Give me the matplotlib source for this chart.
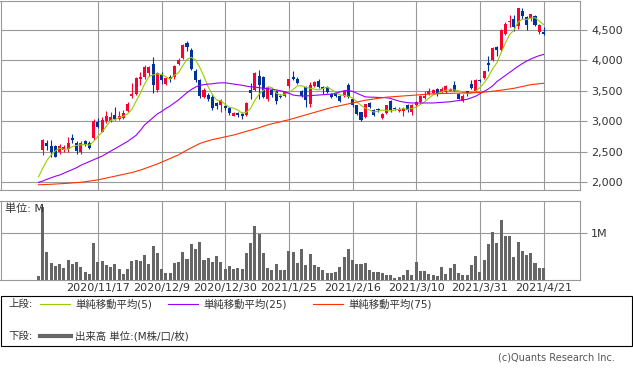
import matplotlib
matplotlib.use("Agg")
import matplotlib.pyplot as plt
import pandas as pd
from matplotlib.patches import Rectangle

W, H = 633, 373

# x-axis: trading-day index, labelled every 15 days
date_labels = ["2020/11/17", "2020/12/9", "2020/12/30", "2021/1/25",
               "2021/2/16", "2021/3/10", "2021/3/31", "2021/4/21"]
label_days = [14, 29, 44, 59, 74, 89, 104, 119]

opens = [2380, 2530, 2650, 2600, 2600, 2500, 2530, 2540, 2730, 2640,
         2490, 2680, 2650, 2730, 2990, 2830, 3000, 3010, 3110, 3045,
         3060, 3165, 3420, 3454, 3685, 3725, 3790, 3944, 3508, 3765,
         3618, 3730, 3720, 3944, 4042, 4281, 4173, 3820, 3680, 3400,
         3430, 3400, 3300, 3260, 3250, 3220, 3090, 3130, 3120, 3100,
         3520, 3520, 3750, 3720, 3360, 3520, 3500, 3420, 3420, 3570,
         3730, 3700, 3500, 3560, 3280, 3580, 3660, 3560, 3560, 3450,
         3450, 3420, 3420, 3600, 3370, 3260, 3150, 3070, 3300, 3190,
         3205, 3060, 3140, 3330, 3220, 3170, 3170, 3260, 3150, 3260,
         3310, 3385, 3450, 3460, 3530, 3480, 3480, 3500, 3590, 3450,
         3340, 3490, 3610, 3500, 3680, 3710, 3950, 4000, 4210, 4170,
         4430, 4620, 4670, 4560, 4800, 4710, 4690, 4730, 4460, 4455]
highs = [2380, 2710, 2690, 2690, 2610, 2620, 2610, 2745, 2785, 2675,
         2675, 2690, 2675, 3035, 3056, 3067, 3165, 3160, 3235, 3165,
         3180, 3317, 3620, 3725, 3807, 3928, 3900, 4052, 3807, 3807,
         3725, 3760, 3920, 4030, 4270, 4320, 4200, 3850, 3700, 3540,
         3470, 3440, 3320, 3370, 3270, 3240, 3150, 3150, 3160, 3320,
         3630, 3810, 3840, 3740, 3570, 3540, 3510, 3440, 3500, 3700,
         3830, 3720, 3510, 3580, 3640, 3660, 3690, 3580, 3570, 3470,
         3460, 3430, 3510, 3620, 3380, 3270, 3160, 3290, 3320, 3200,
         3220, 3140, 3270, 3350, 3230, 3230, 3230, 3280, 3280, 3330,
         3430, 3500, 3540, 3530, 3550, 3560, 3600, 3550, 3660, 3470,
         3440, 3500, 3670, 3690, 3700, 3830, 4070, 4220, 4240, 4510,
         4620, 4740, 4740, 4860, 4860, 4720, 4760, 4740, 4590, 4540]
lows = [2380, 2450, 2530, 2420, 2410, 2470, 2490, 2500, 2650, 2470,
        2460, 2590, 2545, 2690, 2890, 2820, 2965, 2990, 3020, 3020,
        3040, 3153, 3380, 3426, 3590, 3700, 3750, 3464, 3480, 3618,
        3590, 3650, 3700, 3920, 4020, 4150, 3840, 3640, 3380, 3380,
        3340, 3190, 3200, 3160, 3190, 3110, 3080, 3070, 3040, 3090,
        3370, 3500, 3370, 3380, 3330, 3400, 3290, 3380, 3400, 3550,
        3680, 3610, 3400, 3230, 3230, 3560, 3540, 3450, 3460, 3380,
        3390, 3320, 3400, 3380, 3240, 3100, 3000, 3060, 3220, 3080,
        3160, 3040, 3120, 3160, 3180, 3150, 3090, 3160, 3110, 3240,
        3300, 3370, 3430, 3440, 3420, 3460, 3460, 3490, 3490, 3360,
        3310, 3420, 3530, 3490, 3640, 3700, 3820, 3980, 4070, 4150,
        4410, 4540, 4480, 4520, 4680, 4500, 4650, 4560, 4430, 4420]
closes = [2380, 2690, 2600, 2490, 2420, 2600, 2580, 2640, 2690, 2510,
          2650, 2620, 2570, 3000, 2910, 3020, 3085, 3070, 3045, 3080,
          3130, 3285, 3440, 3709, 3725, 3890, 3890, 3590, 3791, 3672,
          3709, 3690, 3900, 4010, 4255, 4216, 3863, 3670, 3410, 3510,
          3360, 3210, 3250, 3350, 3210, 3130, 3130, 3100, 3080, 3300,
          3460, 3790, 3590, 3400, 3560, 3430, 3340, 3400, 3480, 3690,
          3700, 3630, 3420, 3345, 3600, 3640, 3560, 3530, 3480, 3400,
          3410, 3340, 3500, 3400, 3260, 3120, 3020, 3280, 3240, 3100,
          3180, 3120, 3260, 3180, 3200, 3205, 3205, 3180, 3260, 3310,
          3420, 3420, 3500, 3510, 3440, 3530, 3570, 3530, 3500, 3370,
          3420, 3440, 3550, 3680, 3660, 3820, 3930, 4200, 4170, 4490,
          4600, 4645, 4540, 4850, 4730, 4580, 4750, 4580, 4580, 4430]

# volume, in millions of shares
volumes = [0.09, 1.57, 0.60, 0.36, 0.30, 0.34, 0.26, 0.43, 0.34, 0.39,
           0.28, 0.17, 0.13, 0.79, 0.39, 0.41, 0.32, 0.28, 0.34, 0.24,
           0.13, 0.24, 0.41, 0.43, 0.41, 0.54, 0.34, 0.73, 0.58, 0.24,
           0.15, 0.15, 0.36, 0.39, 0.60, 0.45, 0.77, 0.66, 0.81, 0.43,
           0.47, 0.39, 0.51, 0.39, 0.24, 0.30, 0.24, 0.26, 0.24, 0.58,
           0.79, 1.16, 0.99, 0.58, 0.26, 0.21, 0.34, 0.21, 0.21, 0.62,
           0.60, 0.36, 0.66, 0.32, 0.56, 0.32, 0.28, 0.21, 0.15, 0.15,
           0.17, 0.28, 0.49, 0.66, 0.43, 0.34, 0.34, 0.36, 0.21, 0.17,
           0.17, 0.15, 0.11, 0.11, 0.04, 0.06, 0.11, 0.21, 0.11, 0.39,
           0.19, 0.19, 0.13, 0.11, 0.09, 0.28, 0.13, 0.26, 0.34, 0.15,
           0.11, 0.11, 0.32, 0.51, 0.17, 0.43, 0.77, 1.03, 0.79, 1.29,
           0.94, 0.94, 0.49, 0.81, 0.62, 0.54, 0.58, 0.36, 0.26, 0.26]

# first four 5-day averages depend on earlier closes
ma5_head = [2090, 2230, 2360, 2450]
ma25 = [2000, 2020, 2050, 2075, 2100, 2120, 2150, 2180, 2210, 2240,
        2280, 2310, 2340, 2370, 2400, 2430, 2470, 2510, 2550, 2590,
        2630, 2670, 2720, 2770, 2850, 2940, 3000, 3060, 3120, 3160,
        3210, 3250, 3300, 3350, 3410, 3470, 3520, 3560, 3590, 3600,
        3610, 3615, 3625, 3630, 3630, 3620, 3610, 3600, 3590, 3575,
        3565, 3560, 3550, 3540, 3535, 3525, 3515, 3500, 3485, 3460,
        3430, 3420, 3415, 3415, 3420, 3425, 3430, 3435, 3440, 3445,
        3460, 3480, 3500, 3505, 3490, 3460, 3430, 3400, 3395, 3395,
        3390, 3390, 3385, 3375, 3350, 3330, 3315, 3305, 3300, 3300,
        3300, 3300, 3300, 3300, 3305, 3310, 3315, 3320, 3330, 3340,
        3350, 3360, 3385, 3410, 3450, 3490, 3530, 3580, 3650, 3700,
        3750, 3800, 3850, 3900, 3945, 3985, 4020, 4050, 4075, 4095]
ma75 = [1960, 1962, 1965, 1968, 1972, 1976, 1980, 1985, 1990, 1995,
        2000, 2010, 2020, 2030, 2040, 2055, 2070, 2085, 2100, 2115,
        2130, 2145, 2160, 2180, 2200, 2225, 2250, 2275, 2300, 2330,
        2360, 2390, 2420, 2450, 2490, 2530, 2565, 2600, 2635, 2660,
        2680, 2700, 2715, 2730, 2745, 2760, 2775, 2795, 2815, 2835,
        2855, 2875, 2895, 2920, 2940, 2960, 2975, 2990, 3010, 3025,
        3045, 3065, 3085, 3105, 3125, 3145, 3165, 3185, 3205, 3225,
        3240, 3255, 3270, 3285, 3300, 3315, 3330, 3345, 3355, 3365,
        3375, 3385, 3395, 3400, 3405, 3410, 3415, 3420, 3425, 3430,
        3435, 3440, 3445, 3450, 3452, 3454, 3456, 3458, 3460, 3462,
        3464, 3466, 3468, 3470, 3472, 3478, 3485, 3492, 3500, 3510,
        3520, 3530, 3540, 3555, 3570, 3585, 3600, 3608, 3615, 3622]

UP = "#ff0033"
DOWN = "#003399"
GRID = "#999999"

plt.rcParams["font.family"] = ["DejaVu Sans", "Noto Sans CJK JP"]

df = pd.DataFrame({"open": opens, "high": highs, "low": lows,
                   "close": closes, "volume": volumes})
df["ma5"] = df["close"].rolling(5).mean()
df.loc[:3, "ma5"] = ma5_head
df["ma25"] = ma25
df["ma75"] = ma75
days = df.index.to_numpy()


def px_axes(fig, x0, y0, x1, y1):
    return fig.add_axes([x0 / W, 1 - y1 / H, (x1 - x0) / W, (y1 - y0) / H])


def style_frame(ax):
    for s in ax.spines.values():
        s.set_color(GRID)
        s.set_linewidth(0.8)
    ax.grid(True, color=GRID, lw=0.8)
    ax.set_axisbelow(True)
    ax.set_xlim(-8.95, 127.6)
    ax.set_xticks(label_days)


fig = plt.figure(figsize=(W / 100, H / 100), dpi=100)

# price panel
ax = px_axes(fig, 0.5, 0.5, 580, 190)
style_frame(ax)
up = df["close"] >= df["open"]
colors = [UP if (u and c != o) else DOWN for u, c, o in zip(up, df["close"], df["open"])]
body_lo = df[["open", "close"]].min(axis=1)
body_h = (df["close"] - df["open"]).abs().clip(lower=10)
ax.vlines(days, df["low"], df["high"], colors=colors, lw=0.8, zorder=2)
ax.bar(days, body_h, bottom=body_lo, width=0.72, color=colors, zorder=3)
ax.plot(days, df["ma5"], color="#99cc00", lw=0.8, zorder=4)
ax.plot(days, df["ma25"], color="#9900ff", lw=0.8, zorder=4)
ax.plot(days, df["ma75"], color="#ff3300", lw=0.8, zorder=4)
ax.set_ylim(1874, 4979)
ax.set_yticks([2000, 2500, 3000, 3500, 4000, 4500])
ax.set_yticklabels([f"{v:,}" for v in [2000, 2500, 3000, 3500, 4000, 4500]])
ax.tick_params(axis="y", left=False, labelleft=False, right=True, labelright=True,
               length=5, color=GRID, labelsize=8, labelcolor="#333333", pad=3)
ax.tick_params(axis="x", length=0, labelbottom=False)

# volume panel
axv = px_axes(fig, 0.5, 201, 580, 280)
style_frame(axv)
axv.bar(days, df["volume"], width=0.72, color="#666666", zorder=3)
axv.set_ylim(0, 1.69)
axv.set_yticks([1])
axv.set_yticklabels(["1M"])
axv.tick_params(axis="y", left=False, labelleft=False, right=True, labelright=True,
                length=5, color=GRID, labelsize=8, labelcolor="#333333", pad=3)
axv.set_xticklabels(date_labels)
axv.tick_params(axis="x", length=0, labelsize=8, labelcolor="#333333", pad=2)
axv.text(0.008, 0.9, "単位: M", transform=axv.transAxes, fontsize=8,
         color="#333333", va="center", ha="left", zorder=5)

# legend panel drawn in pixel coordinates
axl = px_axes(fig, 0, 290, W, H)
axl.set_xlim(0, W)
axl.set_ylim(H, 290)
axl.set_axis_off()
axl.add_patch(Rectangle((0.5, 296), 631.5, 50, fill=False, ec="black", lw=0.8))
txt = dict(fontsize=7.5, color="#333333", va="center", ha="left")
axl.text(8, 304, "上段:", **txt)
axl.text(8, 336, "下段:", **txt)
for x0, col, lab in [(40, "#99cc00", "単純移動平均(5)"),
                     (168, "#9900ff", "単純移動平均(25)"),
                     (313, "#ff3300", "単純移動平均(75)")]:
    axl.plot([x0, x0 + 30], [304, 304], color=col, lw=0.8)
    axl.text(x0 + 35, 304, lab, **txt)
axl.plot([40, 71], [336, 336], color="#666666", lw=3)
axl.text(75, 336, "出来高 単位:(M株/口/枚)", **txt)
axl.text(615, 358, "(c)Quants Research Inc.", fontsize=7, color="#555555",
         va="center", ha="right")

fig.savefig("out.png", dpi=100)
